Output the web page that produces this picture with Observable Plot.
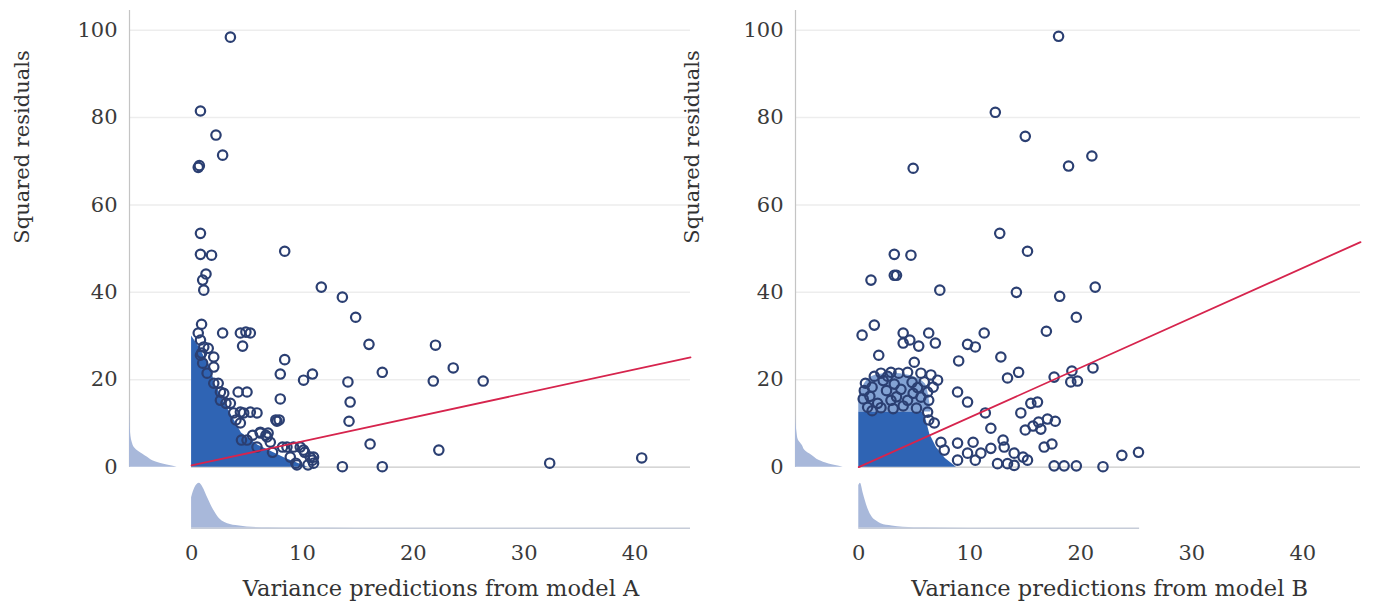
<!DOCTYPE html>
<html><head><meta charset="utf-8">
<script src="https://cdn.jsdelivr.net/npm/d3@7"></script>
<script src="https://cdn.jsdelivr.net/npm/@observablehq/plot@0.6"></script>
<style>
body{margin:0;background:#fff;width:1381px;height:603px;overflow:hidden;position:relative}
#a,#b{position:absolute;top:0}
#a{left:0}
#b{left:670px}
svg{overflow:visible}
</style></head><body><div id="a"></div><div id="b"></div>
<script>
// ---------- shared ----------
const yTicks = [0, 20, 40, 60, 80, 100];
const xTicks = [0, 10, 20, 30, 40];
const yLabel = "Squared residuals";
const xLabelA = "Variance predictions from model A";
const xLabelB = "Variance predictions from model B";

// ---------- panel A (model A) ----------
const xA = [3.5,0.8,2.2,2.8,0.6,0.7,0.8,0.8,1.8,8.4,1.3,1.0,1.1,11.7,13.6,14.8,16.0,22.0,23.6,26.3,21.8,17.2,14.1,14.3,14.2,16.1,22.3,13.6,17.2,32.3,40.6,
  8.4,8.0,10.1,10.9,8.0,7.7,7.9,2.8,4.4,4.9,5.3,4.6,
  0.9,0.6,0.8,1.1,1.5,0.9,2.0,0.8,1.0,2.0,1.4,2.0,2.4,2.6,2.9,3.1,3.5,2.6,3.8,4.7,4.4,5.3,4.4,4.0,4.2,5.0,5.9,6.2,6.8,8.6,10.1,11.0,11.0,9.5,10.5,10.9,8.9,7.3,5.0,5.5,5.9,6.2,6.7,7.1,8.2,9.2,9.8,4.5,6.9,7.6,10.2,10.7,9.4];
const yA = [98.4,81.5,76.0,71.4,68.6,69.0,53.5,48.7,48.5,49.4,44.2,42.8,40.5,41.2,38.9,34.3,28.1,27.9,22.7,19.7,19.7,21.7,19.5,14.9,10.5,5.3,3.9,0.1,0.1,0.9,2.1,
  24.6,21.3,19.9,21.3,15.6,10.5,10.8,30.7,30.7,30.9,30.7,27.7,
  32.7,30.7,29.1,27.5,27.2,26.1,25.2,25.6,23.8,22.9,21.5,19.2,19.2,17.2,16.9,14.6,14.6,15.3,12.4,12.4,12.6,12.6,10.1,10.8,17.2,17.2,12.4,7.8,6.9,4.6,3.9,2.3,0.9,0.5,0.5,1.6,2.3,3.4,6.2,7.3,4.6,8.0,7.3,5.7,4.6,4.6,4.6,6.2,7.8,10.8,3.4,2.3,0.9];
const blobAx = [0, 0.8, 1.2, 1.7, 2.1, 2.9, 3.7, 4.5, 6.0, 6.9, 8.5, 10.5];
const blobAtop = [30, 27, 25, 23, 19, 15, 11.4, 7.8, 5, 3.9, 2, 0];
const lineAx = [0, 45];
const lineAy = [0.4, 25.1];
const densAyV = [0, 0.7, 1.4, 2.3, 3.5, 4.5, 5.5, 7, 9, 12, 14];
const densAyD = [1.0, 0.7, 0.5, 0.37, 0.2, 0.1, 0.06, 0.03, 0.015, 0.005, 0];
const densAxV = [0, 0.3, 0.7, 1.0, 1.5, 2.0, 2.5, 3.0, 4, 5, 7, 10, 15, 45];
const densAxD = [0.68, 0.9, 1.0, 0.92, 0.65, 0.4, 0.22, 0.13, 0.06, 0.03, 0.012, 0.005, 0.002, 0];

// ---------- panel B (model B) ----------
const xB = [18.0,12.3,15.0,21.0,18.9,4.9,12.7,15.2,3.2,4.7,1.1,3.2,3.4,7.3,14.2,18.1,21.3,19.6,16.9,11.3,1.4,0.3,4.0,6.3,4.0,4.6,5.4,6.9,9.8,10.5,
  1.8,9.0,12.8,5.0,13.4,14.4,17.6,19.2,19.1,19.7,21.1,8.9,9.8,11.4,14.6,15.5,16.1,11.9,15.0,15.7,16.2,17.0,17.7,16.4,16.7,17.4,
  13.0,13.1,14.0,14.8,15.2,11.9,11.0,10.3,8.9,7.4,7.7,12.5,13.4,14.0,17.6,18.5,19.6,22.0,9.8,10.5,8.9,23.7,25.2,
  0.6,2.0,2.9,3.6,4.4,5.6,6.5,7.1,6.7,6.2,5.6,4.9,2.9,1.7,0.8,4.4,6.3,6.2,6.3,6.8,
  0.5,1.2,1.0,2.2,2.5,3.2,3.8,3.4,4.8,5.3,2.0,3.1,4.0,5.2,1.4,0.4,5.9,2.6,1.2];
const yB = [98.6,81.2,75.7,71.2,68.9,68.4,53.5,49.4,48.7,48.5,42.8,43.9,43.9,40.5,40.0,39.1,41.2,34.3,31.1,30.7,32.5,30.2,30.7,30.7,28.4,29.1,27.7,28.4,28.1,27.5,
  25.6,24.3,25.2,24.0,20.4,21.7,20.6,22.0,19.5,19.7,22.7,17.2,14.9,12.4,12.4,14.6,14.9,8.9,8.5,9.4,10.3,11.0,10.5,8.7,4.6,5.3,
  6.2,4.6,3.2,2.3,1.6,4.3,3.2,5.7,5.5,5.7,3.9,0.8,0.8,0.4,0.3,0.3,0.3,0.1,3.2,1.6,1.6,2.7,3.4,
  19.2,21.5,21.7,21.5,21.7,21.5,21.1,19.9,18.3,17.2,16.0,16.9,15.3,14.6,13.7,15.3,15.3,12.6,10.8,10.1,
  17.5,18.3,16.2,19.8,17.5,19.0,17.8,16.1,19.4,18.2,13.6,13.4,14.0,13.5,20.8,15.6,19.5,20.8,12.9];
const blobBx = [0, 5.8, 6.1, 6.4, 7.0, 7.8, 8.8];
const blobBtop = [12.6, 12.6, 10.5, 7.5, 4.5, 2, 0];
const upperBx = [0, 0.5, 1.5, 3, 4.5, 6, 6.5];
const upperBlo = [12.6, 12.6, 12.6, 12.6, 12.6, 12.6, 12.6];
const upperBhi = [16, 19, 21, 21.5, 21, 19, 13];
const lineBx = [0, 45.2];
const lineBy = [0, 51.5];
const densByV = [0, 0.7, 1.5, 2.7, 3.8, 5, 6.2, 8, 10, 12];
const densByD = [1.0, 0.7, 0.5, 0.34, 0.2, 0.14, 0.06, 0.03, 0.01, 0];
const densBxV = [0, 0.15, 0.4, 0.8, 1.2, 1.6, 2, 3, 4, 6, 10, 25.3];
const densBxD = [0.95, 1.0, 0.78, 0.45, 0.25, 0.16, 0.1, 0.05, 0.025, 0.01, 0.003, 0];

// ---------- layout / style ----------
const yDomain = [-14.5, 104.5];
const densBase = -14;
const densH = 10.3;   // height of the bottom marginal (y units)
const densW = 4.3;    // width of the left marginal (x units)
const font = "DejaVu Serif";

function zip(a, b, ka, kb) { return a.map((v, i) => ({[ka]: v, [kb]: b[i]})); }

function panel(o) {
  const xmin = o.xDomain[0], xmax = o.xDomain[1];
  const pts = zip(o.px, o.py, "x", "y");
  const blob = zip(o.bx, o.btop, "x", "top");
  const dY = zip(o.dyV, o.dyD, "v", "d");
  const dX = zip(o.dxV, o.dxD, "v", "d");
  const line = zip(o.lx, o.ly, "x", "y");
  const marks = [
    Plot.ruleY(yTicks.filter(d => d > 0), {x1: xmin, x2: xmax, stroke: "#ededed", strokeWidth: 1.5}),
    Plot.ruleY([0], {x1: 0, x2: xmax, stroke: "#c9c9c9", strokeWidth: 1.2}),
    Plot.ruleX([xmin], {y1: 0, y2: yDomain[1], stroke: "#c4c4c4", strokeWidth: 1.2}),
    Plot.areaX(dY, {y: "v", x1: xmin, x2: d => xmin + d.d * densW, fill: "#a8b8da", curve: "monotone-y"}),
    Plot.areaY(dX, {x: "v", y1: densBase, y2: d => densBase + d.d * densH, fill: "#a8b8da", curve: "monotone-x"}),
    Plot.ruleY([densBase], {x1: 0, x2: d3.max(o.dxV), stroke: "#c6ccd8", strokeWidth: 1.5}),
    Plot.areaY(blob, {x: "x", y1: 0, y2: "top", fill: "#2f64b4"})
  ];
  if (o.ux) {
    const up = o.ux.map((x, i) => ({x, lo: o.ulo[i], hi: o.uhi[i]}));
    marks.push(Plot.areaY(up, {x: "x", y1: "lo", y2: "hi", fill: "#4f7cc2", fillOpacity: 0.7, curve: "monotone-x"}));
  }
  marks.push(
    Plot.dot(pts, {x: "x", y: "y", r: 4.7, stroke: "#2b3f72", strokeWidth: 2.2, fill: "none"}),
    Plot.line(line, {x: "x", y: "y", stroke: "#d6244d", strokeWidth: 1.8}),
    Plot.axisY(yTicks, {anchor: "left", tickSize: 0, tickPadding: 12, label: null, fontSize: 21}),
    Plot.axisX(xTicks, {anchor: "bottom", tickSize: 0, tickPadding: 15, label: null, fontSize: 21}),
    Plot.text([o.xLabel], {x: xmax / 2, frameAnchor: "bottom", dy: 58, fontSize: 22.5, lineAnchor: "middle", fill: "#333"}),
    Plot.text([yLabel], {frameAnchor: "left", y: d3.mean(yTicks), dx: o.yLabelDx, dy: -5, rotate: -90, fontSize: 21, lineAnchor: "middle", fill: "#333"})
  );
  return Plot.plot({
    width: o.width, height: 603,
    marginLeft: o.marginLeft, marginRight: o.marginRight, marginTop: 10, marginBottom: 73,
    x: {domain: o.xDomain},
    y: {domain: yDomain},
    style: {fontFamily: font, fontSize: "21px", color: "#3a3a3a", background: "transparent", overflow: "visible"},
    marks
  });
}

document.getElementById("a").append(panel({
  px: xA, py: yA, bx: blobAx, btop: blobAtop, lx: lineAx, ly: lineAy,
  dyV: densAyV, dyD: densAyD, dxV: densAxV, dxD: densAxD,
  xLabel: xLabelA, xDomain: [-5.6, 45], width: 690, marginLeft: 129, marginRight: 0, yLabelDx: -107
}));
document.getElementById("b").append(panel({
  px: xB, py: yB, bx: blobBx, btop: blobBtop, lx: lineBx, ly: lineBy,
  ux: upperBx, ulo: upperBlo, uhi: upperBhi,
  dyV: densByV, dyD: densByD, dxV: densBxV, dxD: densBxD,
  xLabel: xLabelB, xDomain: [-5.7, 45.2], width: 711, marginLeft: 125, marginRight: 21, yLabelDx: -103
}));
</script></body></html>
